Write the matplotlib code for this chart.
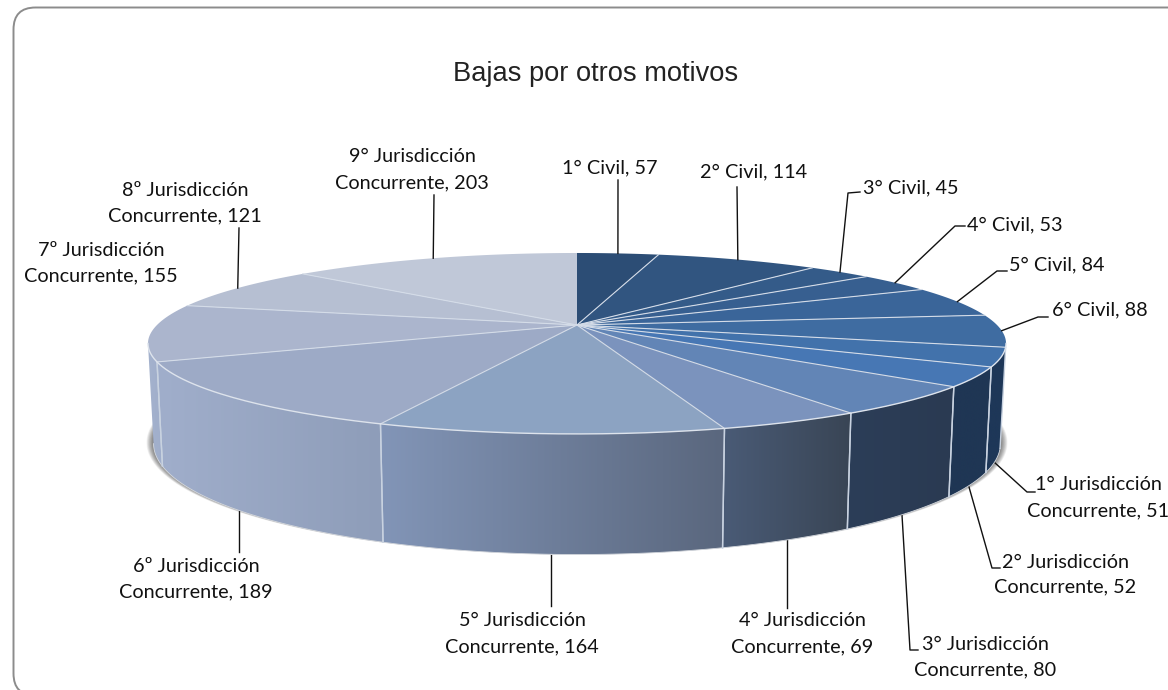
import numpy as np
import matplotlib
matplotlib.use("Agg")
import matplotlib.pyplot as plt
from matplotlib.patches import FancyBboxPatch, Polygon
from matplotlib.colors import to_rgb

names = ["1° Civil", "2° Civil", "3° Civil", "4° Civil", "5° Civil", "6° Civil",
         "1° Jurisdicción", "2° Jurisdicción", "3° Jurisdicción", "4° Jurisdicción",
         "5° Jurisdicción", "6º Jurisdicción", "7º Jurisdicción", "8º Jurisdicción",
         "9° Jurisdicción"]
values = [57, 114, 45, 53, 84, 88, 51, 52, 80, 69, 164, 189, 155, 121, 203]

top_colors = ["#2C4D75", "#315580", "#345B89", "#375F90", "#3A6599", "#3F6CA1", "#4272AB", "#4777B4",
              "#6285B6", "#7B93BD", "#8CA3C2", "#9DAAC6", "#ABB5CD", "#B6BFD2", "#C0C8D8"]
# left and right colour of the rim of each slice
side_left = {6: "#1E3758", 7: "#1F3654", 8: "#2C3E58", 9: "#4A5B76", 10: "#8295B7", 11: "#A0AECB", 12: "#A4B2CD"}
side_right = {6: "#1E3758", 7: "#1F3654", 8: "#2A3A52", 9: "#394555", 10: "#5A677E", 11: "#8E9DB9", 12: "#A0AECB"}

# text pos, line 1 y, line 2 y, leader points after the start on the pie
labels = {
    0: (610, 168, None, [(618, 180)]),
    1: (754, 172, None, [(737, 187)]),
    2: (863, 188, None, [(848, 193), (860, 192)]),
    3: (967, 225, None, [(955, 226), (965, 226)]),
    4: (1009, 265, None, [(997, 271), (1007, 271)]),
    5: (1052, 310, None, [(1038, 317), (1048, 317)]),
    6: (1098, 485, 511, [(1027, 492), (1035, 492)]),
    7: (1065, 562, 587, [(992, 568), (1000, 568)]),
    8: (985, 645, 670, [(910, 650), (918, 650)]),
    9: (802, 621, 647, [(787, 608)]),
    10: (522, 620, 647, [(551, 606)]),
    11: (196, 567, 592, [(239, 552)]),
    12: (101, 250, 276, []),
    13: (185, 190, 216, [(239, 228)]),
    14: (412, 157, 183, [(434, 195)]),
}
# where the leaders of the front slices leave the rim
front_start = {6: (994, 462), 7: (969, 487), 8: (902, 515), 9: (787, 540), 10: (551, 555), 11: (239, 511)}

cx, cy = 577, 325
R, Ry, k, H = 420, 86.7, 0.204, 96
label_font = "Lato"
label_size = 14.3


def project(theta, depth=0.0):
    # theta clockwise from the back of the pie, perspective on the near side
    x = np.sin(theta)
    y = np.cos(theta)
    d = 1 + k * y
    shrink = 1 - 0.013 * depth / H
    return cx + R * x / d * shrink, cy - Ry * y / d + depth / d


fig = plt.figure(figsize=(11.68, 6.9), dpi=100)
ax = fig.add_axes([0, 0, 1, 1])
ax.set_xlim(0, 1168)
ax.set_ylim(690, 0)
ax.axis("off")

ax.add_patch(FancyBboxPatch((13.5, 7.5), 1300, 688, boxstyle="round,pad=0,rounding_size=22",
                            fc="white", ec="#8C8C8C", lw=1.4, zorder=1))
ax.text(595.5, 74, "Bajas por otros motivos", family="Liberation Sans", fontsize=19.6,
        color="#222222", ha="center", va="center", zorder=6)

total = sum(values)
edges = np.radians(np.concatenate([[0], np.cumsum(values)]) * 360 / total)
mids = (edges[:-1] + edges[1:]) / 2

# soft shadow below the rim, wider on the sides than at the front
t = np.linspace(0, 2 * np.pi, 400)
sx, sy = project(t, H)
sy_mid = (sy.min() + sy.max()) / 2
for grow in np.arange(14, 0, -1):
    ax.add_patch(Polygon(np.c_[cx + (sx - cx) * (1 + grow * 0.0012),
                               sy_mid + (sy - sy_mid) * (1 + grow * 0.0008) - 1],
                         fc="black", ec="none", alpha=0.045, zorder=2))

# rim, only the part that faces the viewer
limit = np.arccos(-k)
for i in range(len(values)):
    a = max(edges[i], limit)
    b = min(edges[i + 1], 2 * np.pi - limit)
    if b <= a or i not in side_left:
        continue
    t = np.linspace(a, b, 80)
    x1, y1 = project(t)
    x2, y2 = project(t, H)
    poly = Polygon(np.r_[np.c_[x1, y1], np.c_[x2, y2][::-1]], closed=True, fc="none", ec="none",
                   transform=ax.transData)
    ax.add_patch(poly)
    xl, xr = min(x1.min(), x2.min()), max(x1.max(), x2.max())
    grad = np.linspace(to_rgb(side_left[i]), to_rgb(side_right[i]), 64)[None, :, :]
    im = ax.imshow(grad, extent=(xl, xr, 600, 300), aspect="auto", zorder=3, interpolation="bilinear")
    im.set_clip_path(poly)
    ax.plot(x2, y2, color="#D5D9DF", lw=0.6, zorder=3.2)
    for e in (a, b):
        if e in (edges[i], edges[i + 1]):
            xa, ya = project(e)
            xb, yb = project(e, H)
            ax.plot([xa, xb], [ya, yb], color="#C8D2E0", lw=1.0, zorder=3.5)
ax.set_xlim(0, 1168)
ax.set_ylim(690, 0)

# top face
for i in range(len(values)):
    t = np.linspace(edges[i], edges[i + 1], 60)
    x, y = project(t)
    ax.add_patch(Polygon(np.r_[[(cx, cy)], np.c_[x, y]], closed=True, fc=top_colors[i], ec="none", zorder=4))
for i, e in enumerate(edges[:-1]):
    x, y = project(e)
    if i > 0:
        ax.plot([cx, x], [cy, y], color="#D4DCE8", lw=0.8, zorder=4.5)
t = np.linspace(limit, 2 * np.pi - limit, 200)
x, y = project(t)
ax.plot(x, y, color="#DDE3EC", lw=1.0, zorder=4.5)

# labels and leader lines
for i, name in enumerate(names):
    pos, y1, y2, elbow = labels[i]
    text = f"{name}, {values[i]}" if i < 6 else name
    ha = "left" if i in (2, 3, 4, 5) else "center"
    ax.text(pos, y1, text, family=label_font, fontsize=label_size, color="#111111", ha=ha, va="center", zorder=6)
    if y2 is not None:
        ax.text(pos, y2, f"Concurrente, {values[i]}", family=label_font, fontsize=label_size, color="#111111",
                ha="center", va="center", zorder=6, clip_on=True)
    if elbow:
        start = front_start.get(i, project(mids[i]))
        px = [start[0]] + [p[0] for p in elbow]
        py = [start[1]] + [p[1] for p in elbow]
        ax.plot(px, py, color="#111111", lw=1.0, zorder=5 if i not in front_start else 2.5)

fig.savefig("out.png", dpi=100, facecolor="white")
